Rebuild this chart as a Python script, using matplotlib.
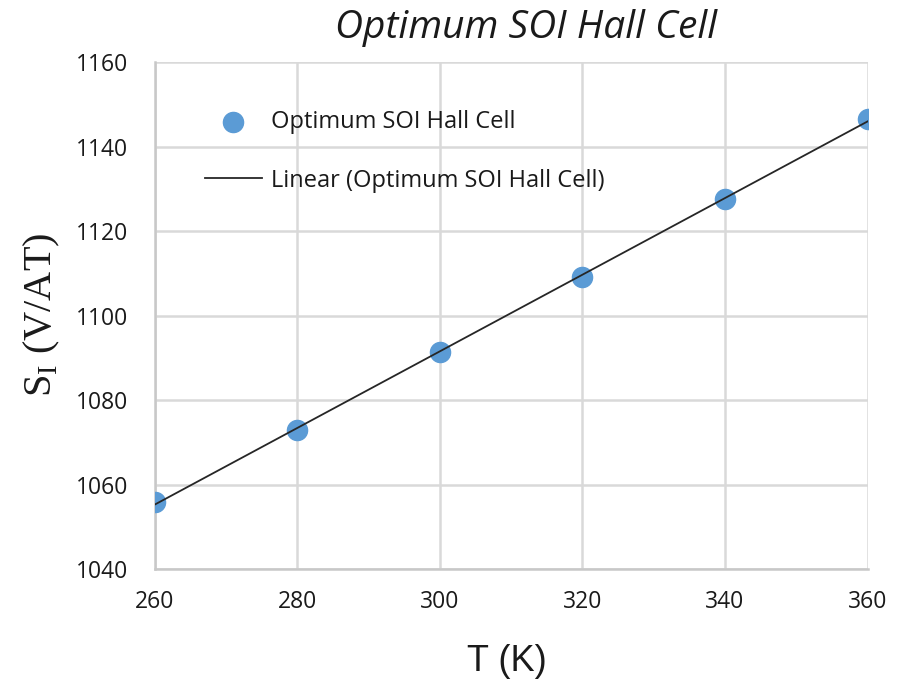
import numpy as np
import matplotlib.pyplot as plt

plt.rcParams['mathtext.fontset'] = 'custom'
plt.rcParams['mathtext.rm'] = 'Liberation Serif'

temps = [260, 280, 300, 320, 340, 360]
sens = [1056, 1073, 1091.3, 1109.2, 1127.7, 1146.6]
x_ticks = [260, 280, 300, 320, 340, 360]
y_ticks = [1040, 1060, 1080, 1100, 1120, 1140, 1160]

fig = plt.figure(figsize=(9, 6.84), dpi=100)
ax = fig.add_axes([0.172, 0.168, 0.792, 0.741])

# least squares trend through the measured points
k, b = np.polyfit(temps, sens, 1)
xs = np.array([temps[0], temps[-1]])

ax.scatter(temps, sens, s=210, color='#5b9bd5', zorder=3, label='Optimum SOI Hall Cell')
ax.plot(xs, k * xs + b, color='#262626', lw=1.3, zorder=4, label='Linear (Optimum SOI Hall Cell)')

ax.set_xlim(260, 360)
ax.set_ylim(1040, 1160)
ax.set_xticks(x_ticks)
ax.set_yticks(y_ticks)
ax.grid(color='#d9d9d9', lw=1.8)
ax.set_axisbelow(True)
for s in ['top', 'right']:
    ax.spines[s].set_visible(False)
for s in ['left', 'bottom']:
    ax.spines[s].set_color('#c8c8c8')
    ax.spines[s].set_linewidth(1.8)
ax.tick_params(length=0, labelsize=16.5)
ax.tick_params(axis='x', pad=15)
ax.tick_params(axis='y', pad=19)
for lab in ax.get_xticklabels() + ax.get_yticklabels():
    lab.set_fontfamily('Open Sans')
    lab.set_color('#1a1a1a')

fig.text(0.585, 0.959, 'Optimum SOI Hall Cell', fontsize=28, style='italic',
         family='Open Sans', ha='center', va='center', color='#1a1a1a')
fig.text(0.563, 0.033, 'T (K)', fontsize=26, family='Liberation Sans',
         ha='center', va='center', color='#1a1a1a')
fig.text(0.047, 0.54, r'S$_\mathrm{I}$ (V/AT)', fontsize=29, family='Liberation Serif',
         rotation=90, ha='center', va='center', color='#1a1a1a')

leg = ax.legend(loc='upper left', bbox_to_anchor=(0.040, 0.947), frameon=False,
                prop={'family': 'Open Sans', 'size': 17}, labelspacing=1.45,
                handlelength=2.45, handletextpad=0.35, scatterpoints=1)
for t in leg.get_texts():
    t.set_color('#1a1a1a')

fig.savefig('out.png', dpi=100)
